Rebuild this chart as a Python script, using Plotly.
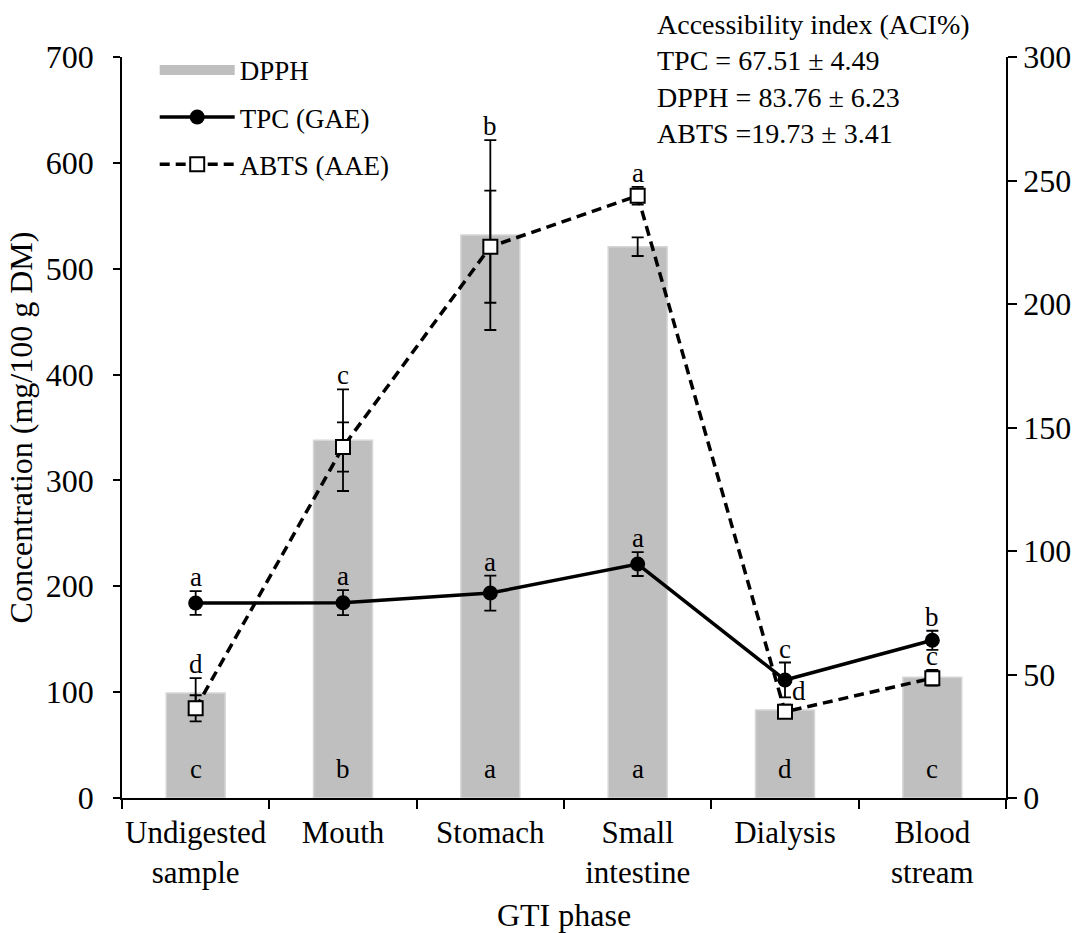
import plotly.graph_objects as go

# ---------------- data ----------------
categories = ["Undigested<br>sample", "Mouth", "Stomach", "Small<br>intestine", "Dialysis", "Blood<br>stream"]
dpph = [99.2, 338.0, 531.8, 520.8, 83.1, 114.0]        # bars, left axis
dpph_err = [14.0, 48.0, 89.7, 8.8, 5.0, 7.0]
tpc = [184.2, 184.5, 193.6, 221.0, 111.5, 149.0]       # left axis
tpc_err = [11.3, 11.8, 16.5, 11.3, 16.5, 9.0]
abts = [36.3, 142.1, 223.2, 243.8, 34.9, 48.5]         # right axis
abts_err = [5.3, 10.0, 22.7, 3.6, 2.0, 3.0]
letters_upper = ["d", "c", "b", "a", "d", "c"]
letters_tpc = ["a", "a", "a", "a", "c", "b"]
letters_bottom = ["c", "b", "a", "a", "d", "c"]
left_ticks = [0, 100, 200, 300, 400, 500, 600, 700]
right_ticks = [0, 50, 100, 150, 200, 250, 300]
aci_text = ["Accessibility index (ACI%)", "TPC = 67.51 ± 4.49", "DPPH = 83.76 ± 6.23", "ABTS =19.73 ± 3.41"]

FONT = "Liberation Serif"
LMAX, RMAX = 700, 300

fig = go.Figure()

fig.add_trace(go.Bar(
    x=categories, y=dpph, name="DPPH", showlegend=False, width=0.4,
    marker=dict(color="#BFBFBF", line=dict(color="#D6D6D6", width=1.5)),
    error_y=dict(type="data", array=dpph_err, color="black", thickness=1.8, width=6),
))
# legend proxy for the bars (wide grey swatch)
fig.add_trace(go.Scatter(
    x=[categories[0]], y=[None], mode="lines", name="DPPH", legendgroup="g1",
    line=dict(color="#BFBFBF", width=15),
))
fig.add_trace(go.Scatter(
    x=categories, y=tpc, name="TPC (GAE)", legendgroup="g2", mode="lines+markers",
    line=dict(color="black", width=3.5),
    marker=dict(symbol="circle", size=15, color="black"),
    error_y=dict(type="data", array=tpc_err, color="black", thickness=1.8, width=6),
))
fig.add_trace(go.Scatter(
    x=categories, y=abts, name="ABTS (AAE)", legendgroup="g3", mode="lines+markers", yaxis="y2",
    line=dict(color="black", width=3.5, dash="10px,6px"),
    marker=dict(symbol="square", size=14, color="white", line=dict(color="black", width=2)),
    error_y=dict(type="data", array=abts_err, color="black", thickness=1.8, width=6),
))

annotations = []
scale = LMAX / RMAX
letter_font = dict(family=FONT, size=27, color="black")
for i, c in enumerate(categories):
    top_bar = dpph[i] + dpph_err[i]
    top_abts = (abts[i] + abts_err[i]) * scale
    annotations.append(dict(
        x=c, y=max(top_bar, top_abts), xref="x", yref="y", text=letters_upper[i],
        showarrow=False, yanchor="bottom", yshift=-3, xshift=(14 if i == 4 else 0),
        font=letter_font))
    annotations.append(dict(
        x=c, y=tpc[i] + tpc_err[i], xref="x", yref="y", text=letters_tpc[i],
        showarrow=False, yanchor="bottom", yshift=-3, font=letter_font))
    annotations.append(dict(
        x=c, y=0, xref="x", yref="y", text=letters_bottom[i],
        showarrow=False, yanchor="bottom", yshift=12, font=letter_font))

annotations.append(dict(
    x=0.603, y=1.068, xref="paper", yref="paper", xanchor="left", yanchor="top",
    text="<br>".join(aci_text), align="left", showarrow=False,
    font=dict(family=FONT, size=28, color="black")))

fig.update_layout(
    width=1091, height=933,
    margin=dict(l=122, r=85, t=57, b=135, autoexpand=False),
    paper_bgcolor="white", plot_bgcolor="white",
    font=dict(family=FONT, size=32, color="black"),
    showlegend=True,
    legend=dict(x=0.037, y=1.015, xanchor="left", yanchor="top", itemwidth=75,
                font=dict(family=FONT, size=27, color="black"),
                traceorder="grouped", tracegroupgap=9, bgcolor="rgba(0,0,0,0)"),
    annotations=annotations,
    xaxis=dict(type="category", tickson="boundaries", ticks="outside", ticklen=9, tickwidth=1.5,
               tickcolor="black", showline=True, linecolor="black", linewidth=1.5,
               showgrid=False, tickfont=dict(size=31), ticklabelstandoff=6, tickangle=0,
               automargin=False,
               title=dict(text="GTI phase", font=dict(size=32), standoff=14)),
    yaxis=dict(range=[0, LMAX], tickvals=left_ticks, ticks="outside", ticklen=7, tickwidth=1.5,
               tickcolor="black", showline=True, linecolor="black", linewidth=1.5,
               showgrid=False, zeroline=False, tickfont=dict(size=32), ticklabelstandoff=13,
               automargin=False,
               title=dict(text="Concentration (mg/100 g DM)", font=dict(size=32), standoff=4)),
    yaxis2=dict(range=[0, RMAX], tickvals=right_ticks, overlaying="y", side="right", ticks="outside",
                ticklen=9, tickwidth=1.5, tickcolor="black", showline=True, linecolor="black",
                linewidth=1.5, showgrid=False, zeroline=False, tickfont=dict(size=32),
                automargin=False),
)

fig.write_html("out.html")
